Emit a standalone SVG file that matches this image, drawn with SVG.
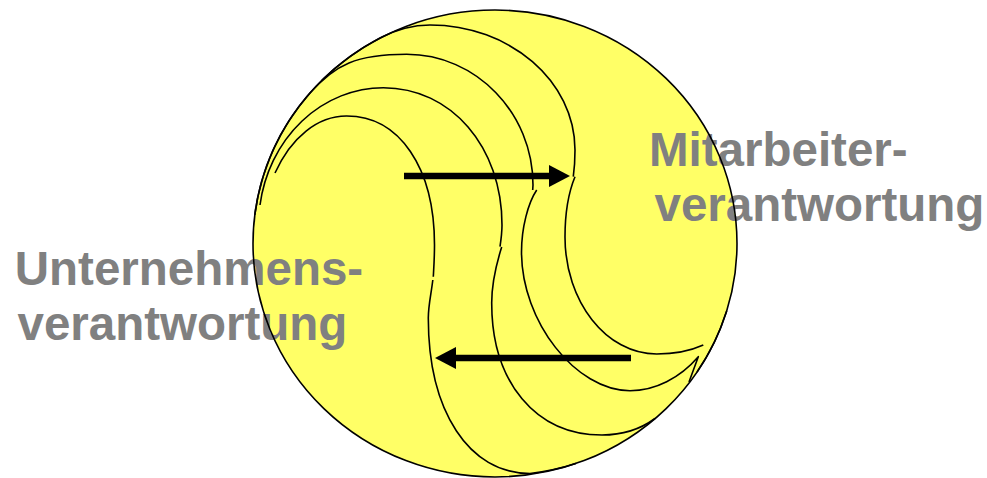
<svg xmlns="http://www.w3.org/2000/svg" width="987" height="478" viewBox="0 0 987 478">
  <style>
    .label { font-family: "Liberation Sans", Arial, Helvetica, sans-serif; font-weight: bold; font-size: 47.5px; fill: #808080; }
    .edge { fill: none; stroke: #000000; stroke-width: 1.6; }
    .curve { fill: none; stroke: #000000; stroke-width: 1.6; stroke-linejoin: round; }
    .arrow { fill: none; stroke: #000000; stroke-width: 6.6; marker-end: url(#head); }
  </style>
  <defs>
    <marker id="head" viewBox="0 0 21 22" markerWidth="21" markerHeight="22" refX="0" refY="11" orient="auto" markerUnits="userSpaceOnUse">
      <path d="M0,0 L21,11 L0,22 Z" fill="#000000"/>
    </marker>
  </defs>

  <g id="disc">
    <ellipse cx="495" cy="243.5" rx="242" ry="233.5" fill="#FFFF66"/>
  </g>

  <g id="labels">
    <text class="label" x="14.8" y="285">Unternehmens-</text>
    <text class="label" x="17.5" y="340">verantwortung</text>
    <text class="label" x="649" y="166">Mitarbeiter-</text>
    <text class="label" x="654.5" y="221">verantwortung</text>
  </g>

  <g id="disc-outline">
    <ellipse class="edge" cx="495" cy="243.5" rx="242" ry="233.5"/>
  </g>

  <g id="curves">
    <path id="curve-a-upper" class="curve" d="M275,173 A86,129 0 0 1 346.7,116 C399.4,116 434.5,167.6 434.5,245 C434.5,258 433.8,268 433.3,276.7"/>
    <path id="curve-a-lower" class="curve" d="M432.8,280 C431.5,292 428.3,305 428.3,318 C428.3,411.3 469,473.5 530,473.5 A242,233.5 0 0 0 576,463.5"/>
    <path id="curve-b-upper" class="curve" d="M260,205 A125,137.3 0 0 1 383.3,87.7 C451,87.7 502,146.7 502,225 C502,233 501,240 500,246.7"/>
    <path id="curve-b-lower" class="curve" d="M501.7,247 C496,265 491.7,285 491.7,303 C491.7,382.2 535.8,435 602,435 C625,435 642,428 655,418.5"/>
    <path id="curve-c-upper" class="curve" d="M254.8,215 A242,233.5 0 0 1 310,93 C335,64.4 356.7,54.3 406.7,54.3 C476.2,54.3 533,113.1 533,185 L532.7,190"/>
    <path id="curve-c-lower" class="curve" d="M536.7,190 C528,203 521.5,228 521.5,252 C521.5,321.4 575.8,390.7 630,390.7 C655,390.7 680,378 698.3,356.7 L689,382"/>
    <path id="curve-d-upper" class="curve" d="M321.7,80.5 A242,233.5 0 0 1 380,38 C395,30.2 412,25 430,25 C509.8,25 575,81.25 575,150 C575,160 574.5,168 573.3,176.7"/>
    <path id="curve-d-lower" class="curve" d="M575,176.7 C569.5,190 565,212 565,237 C565,301.4 606.3,354 656.7,354 C675,354 690,351 703.3,345"/>
    <path id="edge-double" class="curve" d="M726.7,311 A242,233.5 0 0 1 697,372"/>
  </g>

  <g id="connectors">
    <line class="arrow" x1="404" y1="176" x2="549" y2="176"/>
    <line class="arrow" x1="631" y1="358" x2="456" y2="358"/>
  </g>
</svg>
